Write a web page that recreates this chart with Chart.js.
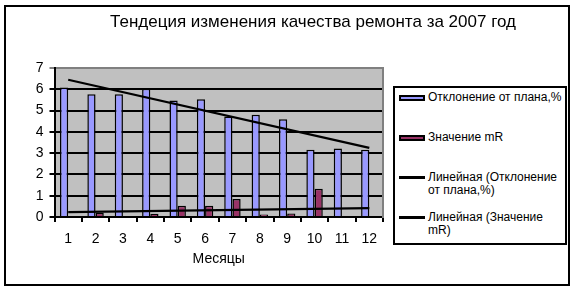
<!DOCTYPE html>
<html>
<head>
<meta charset="utf-8">
<script src="https://cdn.jsdelivr.net/npm/chart.js@4"></script>
<style>
  body { margin: 0; background: #fff; }
  #wrap { position: relative; width: 574px; height: 289px; }
  #frame { position: absolute; left: 4px; top: 5px; width: 562px; height: 277px; border: 2px solid #000; pointer-events: none; }
  #legend {
    position: absolute; left: 393px; top: 86px; width: 170px; height: 152px;
    border: 2px solid #000; background: #fff;
    font-family: 'Liberation Sans', Arial, sans-serif; font-size: 12px; line-height: 13px;
    padding-top: 3px; box-sizing: content-box;
  }
  .item { position: relative; height: 40px; padding-left: 33px; white-space: pre-line; }
  .item:last-child { height: 26px; }
  .mark { position: absolute; left: 4px; top: 4px; width: 26px; box-sizing: border-box; }
  .mark.bar { height: 6px; border: 2px solid #000; top: 3.5px; }
  .mark.line { height: 3px; background: #000; top: 5px; }
</style>
</head>
<body>
<div id="wrap">
  <canvas id="chart" width="574" height="289"></canvas>
  <div id="frame"></div>
  <div id="legend"></div>
</div>
<script>
const months = ['1', '2', '3', '4', '5', '6', '7', '8', '9', '10', '11', '12'];
const deviationPlan = [6.08, 5.77, 5.77, 6.03, 5.47, 5.53, 4.72, 4.8, 4.59, 3.16, 3.22, 3.16];
const valueMR = [0, 0.2, 0.04, 0.15, 0.53, 0.53, 0.85, 0.12, 0.16, 1.33, 0.05, 0.04];
const trendPlan = [6.45, null, null, null, null, null, null, null, null, null, null, 3.25];
const trendMR = [0.23, null, null, null, null, null, null, null, null, null, null, 0.42];

const fontFamily = "'Liberation Sans', Arial, sans-serif";

const plotBackground = {
  id: 'plotBackground',
  afterLayout(chart) {
    // title in the original is centred over the area left of the legend+axis offset
    if (chart.titleBlock) chart.titleBlock.left = 52;
  },
  beforeDraw(chart) {
    const { ctx, chartArea } = chart;
    ctx.save();
    ctx.fillStyle = '#c0c0c0';
    ctx.fillRect(chartArea.left, chartArea.top, chartArea.right - chartArea.left, chartArea.bottom - chartArea.top);
    ctx.restore();
  }
};

function main() {
  const ctx = document.getElementById('chart');

  const chart = new Chart(ctx, {
    type: 'bar',
    data: {
      labels: months,
      datasets: [
        {
          label: 'Отклонение от плана,%',
          data: deviationPlan,
          backgroundColor: '#9999ff',
          borderColor: '#000',
          borderWidth: 1.5,
          categoryPercentage: 0.6,
          barPercentage: 1,
          order: 1,
        },
        {
          label: 'Значение mR',
          data: valueMR,
          backgroundColor: '#993366',
          borderColor: '#000',
          borderWidth: 1.5,
          categoryPercentage: 0.6,
          barPercentage: 1,
          order: 1,
        },
        {
          type: 'line',
          label: 'Линейная (Отклонение\nот плана,%)',
          data: trendPlan,
          borderColor: '#000',
          borderWidth: 2.2,
          pointRadius: 0,
          spanGaps: true,
          order: -1,
        },
        {
          type: 'line',
          label: 'Линейная (Значение\nmR)',
          data: trendMR,
          borderColor: '#000',
          borderWidth: 2.2,
          pointRadius: 0,
          spanGaps: true,
          order: -1,
        },
      ],
    },
    options: {
      responsive: false,
      animation: false,
      layout: { padding: { left: 0, right: 0, top: 0, bottom: 18 } },
      plugins: {
        legend: { display: false },
        tooltip: { enabled: false },
        title: {
          display: true,
          text: 'Тендеция изменения качества ремонта за 2007 год',
          color: '#000',
          font: { family: fontFamily, size: 17, weight: 'normal' },
          padding: { top: 12, bottom: 35.6 },
        },
      },
      scales: {
        x: {
          grid: { drawOnChartArea: false, drawTicks: true, tickLength: 5, color: '#000', lineWidth: 2 },
          border: { color: '#000', width: 2 },
          ticks: { color: '#000', font: { family: fontFamily, size: 14 }, padding: 9, maxRotation: 0 },
          title: {
            display: true,
            text: 'Месяцы',
            color: '#000',
            font: { family: fontFamily, size: 14 },
            padding: { top: 0, bottom: 3.6 },
          },
          afterFit(scale) { scale.height = 54; },
        },
        y: {
          min: 0,
          max: 7,
          grid: {
            color: c => (c.tick && c.tick.value === 7 ? '#808080' : '#000'),
            lineWidth: 2,
            tickLength: 5,
          },
          border: { color: '#000', width: 2 },
          ticks: { stepSize: 1, color: '#000', font: { family: fontFamily, size: 14 }, padding: 6 },
          afterFit(scale) { scale.width = 54.5; },
        },
        y2: {
          position: 'right',
          display: true,
          min: 0,
          max: 7,
          grid: { drawOnChartArea: false, drawTicks: false },
          border: { color: '#808080', width: 2 },
          ticks: { display: false },
          afterFit(scale) { scale.width = 191; },
        },
      },
    },
    plugins: [plotBackground],
  });

  buildLegend(chart);
}

function buildLegend(chart) {
  const box = document.getElementById('legend');
  chart.data.datasets.forEach(ds => {
    const item = document.createElement('div');
    item.className = 'item';
    const mark = document.createElement('span');
    if (ds.type === 'line') {
      mark.className = 'mark line';
    } else {
      mark.className = 'mark bar';
      mark.style.background = ds.backgroundColor;
    }
    item.appendChild(mark);
    item.appendChild(document.createTextNode(ds.label));
    box.appendChild(item);
  });
}

main();
</script>
</body>
</html>
